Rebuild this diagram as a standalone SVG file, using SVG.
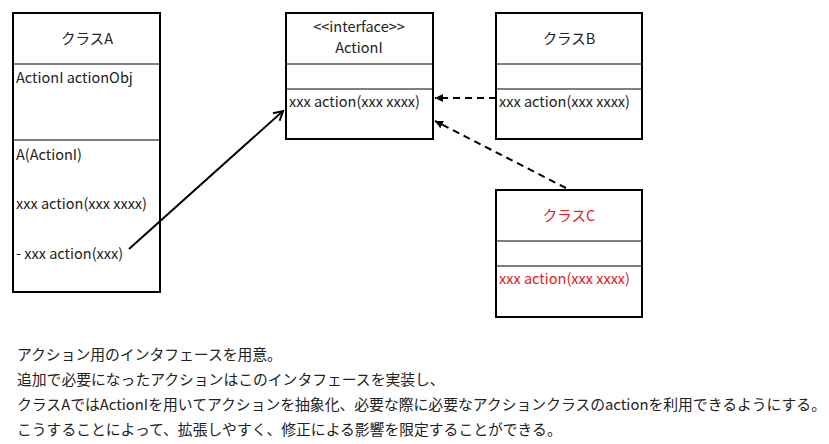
<svg xmlns="http://www.w3.org/2000/svg" width="829" height="444" viewBox="0 0 829 444">
<style>
.box{fill:#fff;stroke:#000;stroke-width:2}
.div{stroke:#000;stroke-width:1}
text{font-family:"Noto Sans CJK JP","Liberation Sans",sans-serif;font-size:14.5px;fill:#222}
.red{fill:#e02020}
.dash{stroke:#000;stroke-width:2;stroke-dasharray:7,5;fill:none}
.note{font-size:14.8px}
</style>
<defs>
<marker id="fa" markerWidth="10" markerHeight="10" refX="8" refY="5" orient="auto" markerUnits="userSpaceOnUse"><path d="M0,1 L8,5 L0,9 Z" fill="#000"/></marker>
<marker id="oa" markerWidth="12" markerHeight="12" refX="10" refY="6" orient="auto" markerUnits="userSpaceOnUse"><path d="M1,1 L10,6 L1,11" fill="none" stroke="#000" stroke-width="2"/></marker>
</defs>
<g id="classA">
<rect class="box" x="13" y="13" width="147" height="279"/>
<line class="div" x1="13" y1="64" x2="160" y2="64"/>
<line class="div" x1="13" y1="140" x2="160" y2="140"/>
<text x="87" y="44" text-anchor="middle" font-size="15">クラスA</text>
<text x="16" y="83">ActionI actionObj</text>
<text x="16" y="160">A(ActionI)</text>
<text x="16" y="209">xxx action(xxx xxxx)</text>
<text x="16" y="259">- xxx action(xxx)</text>
</g>
<g id="interface">
<rect class="box" x="286" y="13" width="147" height="126"/>
<line class="div" x1="286" y1="64" x2="433" y2="64"/>
<line class="div" x1="286" y1="89" x2="433" y2="89"/>
<text x="359" y="32" text-anchor="middle" font-size="11" fill="#444">&lt;&lt;interface&gt;&gt;</text>
<text x="359" y="53" text-anchor="middle" font-size="11">ActionI</text>
<text x="289" y="107">xxx action(xxx xxxx)</text>
</g>
<g id="classB">
<rect class="box" x="496" y="13" width="146" height="126"/>
<line class="div" x1="496" y1="64" x2="642" y2="64"/>
<line class="div" x1="496" y1="89" x2="642" y2="89"/>
<text x="569" y="44" text-anchor="middle" font-size="15">クラスB</text>
<text x="499" y="107">xxx action(xxx xxxx)</text>
</g>
<g id="classC">
<rect class="box" x="496" y="190" width="146" height="127"/>
<line class="div" x1="496" y1="241" x2="642" y2="241"/>
<line class="div" x1="496" y1="266" x2="642" y2="266"/>
<text class="red" x="569" y="221" text-anchor="middle" font-size="15">クラスC</text>
<text class="red" x="499" y="284">xxx action(xxx xxxx)</text>
</g>
<g id="connectors">
<line x1="129" y1="249" x2="283" y2="111" stroke="#000" stroke-width="2" marker-end="url(#oa)"/>
<line class="dash" x1="496" y1="98" x2="435" y2="98" marker-end="url(#fa)"/>
<line class="dash" x1="566" y1="188" x2="435" y2="121" marker-end="url(#fa)"/>
</g>
<g id="notes">
<text class="note" x="17" y="360">アクション用のインタフェースを用意。</text>
<text class="note" x="17" y="385">追加で必要になったアクションはこのインタフェースを実装し、</text>
<text class="note" x="17" y="410" textLength="809" lengthAdjust="spacingAndGlyphs">クラスAではActionIを用いてアクションを抽象化、必要な際に必要なアクションクラスのactionを利用できるようにする。</text>
<text class="note" x="17" y="435">こうすることによって、拡張しやすく、修正による影響を限定することができる。</text>
</g>
</svg>
